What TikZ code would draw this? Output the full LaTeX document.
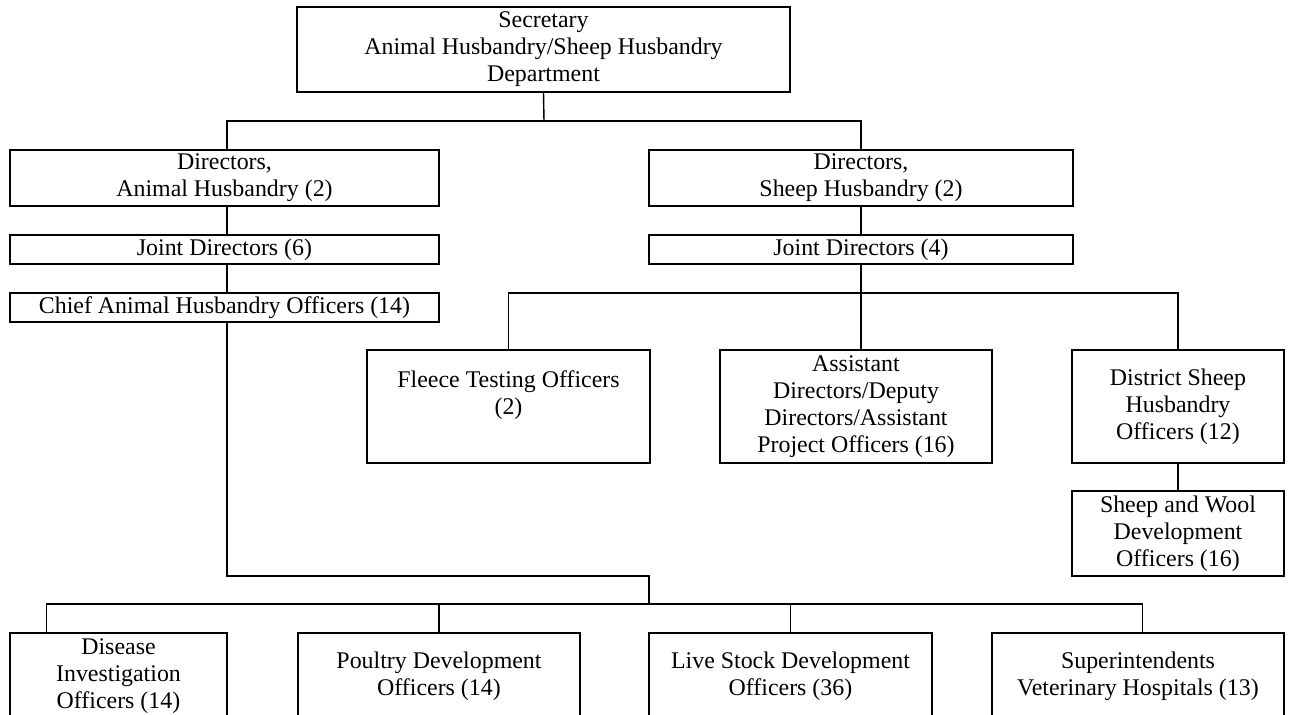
\documentclass[tikz,border=0pt]{standalone}
\usepackage{fontspec}
\setmainfont{Liberation Serif}
\usepackage{tikz}
\usetikzlibrary{calc}
\tikzset{
	orgbox/.style={draw, line width=0.8pt, align=center, inner sep=0pt, font=\fontsize{13.6}{15.4}\selectfont},
	orgline/.style={line width=0.8pt}
}

\begin{document}
\begin{tikzpicture}[x=0.02cm, y=-0.02cm]
		%%%%% START %%%%%
		\useasboundingbox (0, 0) rectangle (1292, 715);
		\clip (0, 0) rectangle (1292, 715);
		
		\node[orgbox, minimum width=9.86cm, minimum height=1.70cm] (sec) at (543.5, 49.5) {Secretary\\Animal Husbandry/Sheep Husbandry\\Department};
		
		\node[orgbox, minimum width=8.58cm, minimum height=1.12cm] (dirah) at (224.5, 178) {Directors,\\Animal Husbandry (2)};
		\node[orgbox, minimum width=8.58cm, minimum height=0.58cm] (jdah) at (224.5, 249.5) {Joint Directors (6)};
		\node[orgbox, minimum width=8.58cm, minimum height=0.58cm] (chief) at (224.5, 307.5) {Chief Animal Husbandry Officers (14)};
		
		\node[orgbox, minimum width=8.48cm, minimum height=1.12cm] (dirsh) at (861, 178) {Directors,\\Sheep Husbandry (2)};
		\node[orgbox, minimum width=8.48cm, minimum height=0.58cm] (jdsh) at (861, 249.5) {Joint Directors (4)};
		
		\node[orgbox, minimum width=5.66cm, minimum height=2.26cm] (fleece) at (508.5, 406.5) {Fleece Testing Officers\\(2)\\~};
		\node[orgbox, minimum width=5.44cm, minimum height=2.26cm] (asst) at (856, 406.5) {Assistant\\Directors/Deputy\\Directors/Assistant\\Project Officers (16)};
		\node[orgbox, minimum width=4.24cm, minimum height=2.26cm] (dist) at (1178, 406.5) {District Sheep\\Husbandry\\Officers (12)};
		\node[orgbox, minimum width=4.24cm, minimum height=1.70cm] (wool) at (1178, 533.5) {Sheep and Wool\\Development\\Officers (16)};
		
		\node[orgbox, minimum width=4.34cm, minimum height=1.72cm] (dis) at (118.5, 676) {Disease\\Investigation\\Officers (14)};
		\node[orgbox, minimum width=5.64cm, minimum height=1.72cm] (poul) at (439, 676) {Poultry Development\\Officers (14)};
		\node[orgbox, minimum width=5.66cm, minimum height=1.72cm] (live) at (790.5, 676) {Live Stock Development\\Officers (36)};
		\node[orgbox, minimum width=5.84cm, minimum height=1.72cm] (sup) at (1138, 676) {Superintendents\\Veterinary Hospitals (13)};
		
		% top level
		\coordinate (secbus) at (544, 121);
		\draw[orgline] (sec.south) -- (secbus);
		\draw[orgline] ($(dirah.north)+(2.5,0)$) |- (secbus) -| (dirsh.north);
		
		% animal husbandry side
		\draw[orgline] ($(dirah.south)+(2.5,0)$) -- ($(jdah.north)+(2.5,0)$);
		\draw[orgline] ($(jdah.south)+(2.5,0)$) -- ($(chief.north)+(2.5,0)$);
		\coordinate (chiefbend) at (649, 576);
		\coordinate (lowbus) at (649, 604);
		\draw[orgline] ($(chief.south)+(2.5,0)$) |- (chiefbend) -- (lowbus);
		\draw[orgline] ($(dis.north west)!0.17!(dis.north east)$) |- (lowbus) -| ($(sup.north)+(4.5,0)$);
		\draw[orgline] (poul.north) -- (poul.north |- lowbus);
		\draw[orgline] (live.north) -- (live.north |- lowbus);
		
		% sheep husbandry side
		\draw[orgline] (dirsh) -- (jdsh);
		\coordinate (shbus) at (861, 293);
		\draw[orgline] (jdsh.south) -- (jdsh.south |- asst.north);
		\draw[orgline] (fleece.north) |- (shbus) -| (dist.north);
		\draw[orgline] (dist) -- (wool);
		
		%%%%% END %%%%%
	\end{tikzpicture}
\end{document}
